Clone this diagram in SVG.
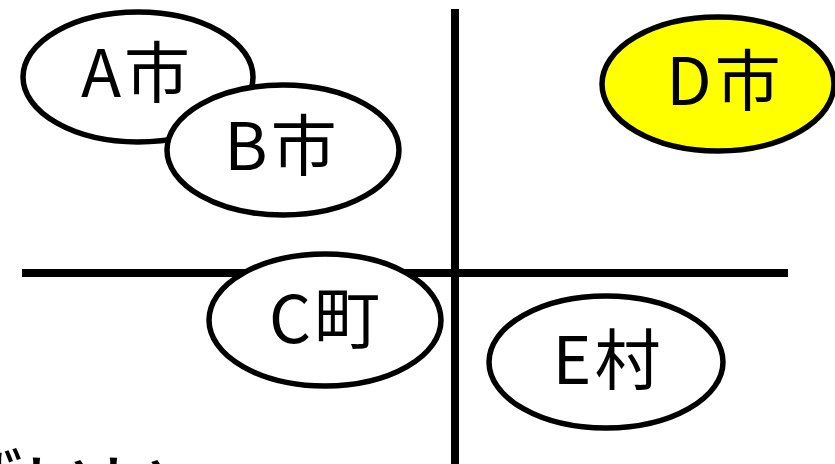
<svg xmlns="http://www.w3.org/2000/svg" width="835" height="464" viewBox="0 0 835 464">
<style>
.e{fill:#fff;stroke:#000;stroke-width:5.5}
.d{fill:#ffff00;stroke:#000;stroke-width:5.5}
.t{font-family:"Noto Sans CJK JP","Noto Sans",sans-serif;font-size:66px;font-weight:400;fill:#000;text-anchor:middle;letter-spacing:3px}
.ln{stroke:#000;stroke-width:8;fill:none}
</style>
<rect width="835" height="464" fill="#fff"/>
<g id="connectors">
<line class="ln" x1="455" y1="9" x2="455" y2="464"/>
<line class="ln" x1="22" y1="273" x2="788" y2="273"/>
</g>
<g id="nodeA"><ellipse class="e" cx="138" cy="77" rx="115" ry="65"/><text class="t" x="137" y="97">A市</text></g>
<g id="nodeB"><ellipse class="e" cx="283" cy="150" rx="116" ry="65"/><text class="t" x="282" y="170">B市</text></g>
<g id="nodeD"><ellipse class="d" cx="718" cy="84" rx="116" ry="67"/><text class="t" x="725" y="105">D市</text></g>
<g id="nodeC"><ellipse class="e" cx="325" cy="320" rx="116" ry="66"/><text class="t" x="326" y="343">C町</text></g>
<g id="nodeE"><ellipse class="e" cx="606" cy="362" rx="117" ry="66"/><text class="t" x="608" y="384">E村</text></g>
<text x="-54" y="512" font-family="Noto Sans CJK JP, sans-serif" font-size="77" fill="#000">ばいい</text>
</svg>
